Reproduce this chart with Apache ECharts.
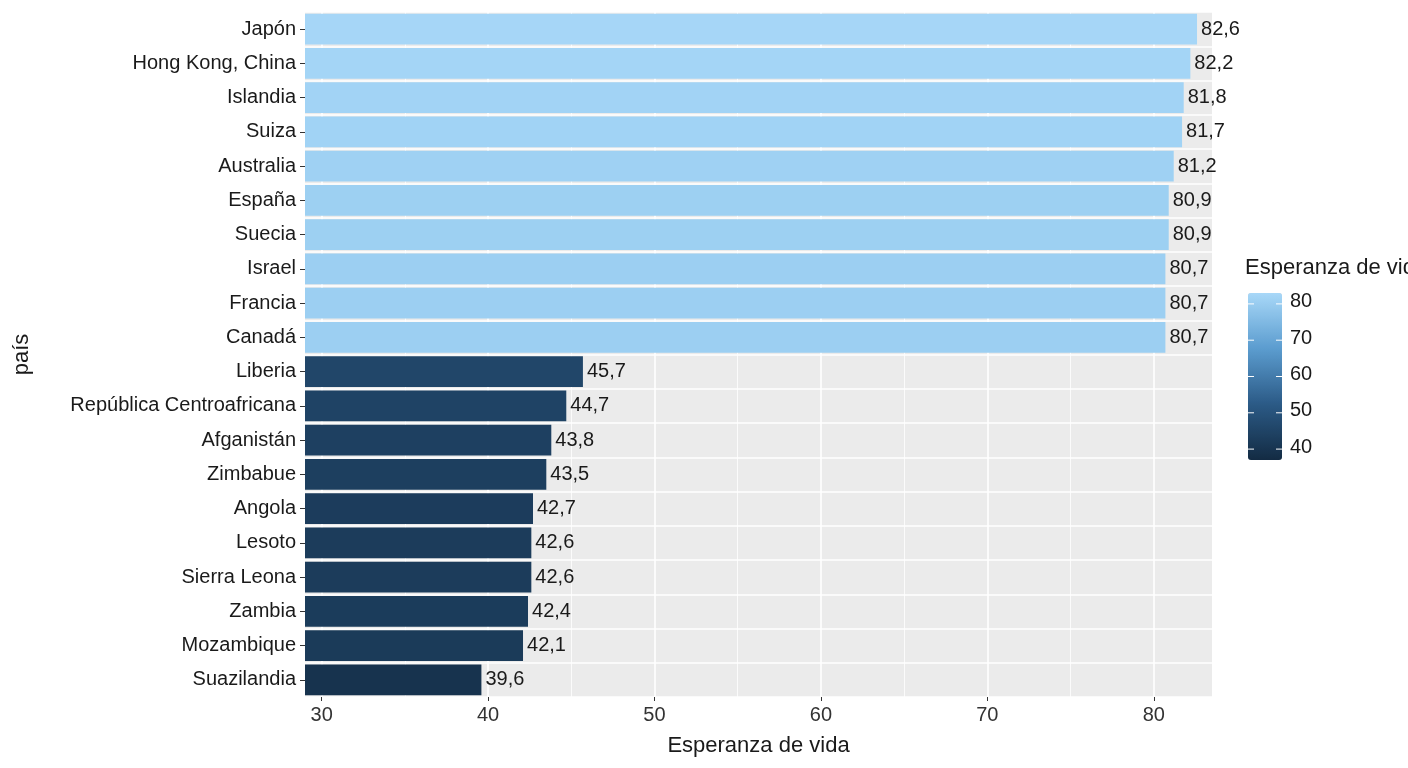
<!DOCTYPE html>
<html>
<head>
<meta charset="UTF-8">
<script src="https://cdn.jsdelivr.net/npm/echarts@6/dist/echarts.min.js"></script>
<style>html,body{margin:0;padding:0;background:#fff}</style>
</head>
<body>
<div id="main" style="width:1408px;height:768px;"></div>
<script>
// países, de arriba abajo
var paises = ['Japón','Hong Kong, China','Islandia','Suiza','Australia','España','Suecia','Israel','Francia','Canadá',
  'Liberia','República Centroafricana','Afganistán','Zimbabue','Angola','Lesoto','Sierra Leona','Zambia','Mozambique','Suazilandia'];
var esperanza = [82.6,82.2,81.8,81.7,81.2,80.9,80.9,80.7,80.7,80.7,45.7,44.7,43.8,43.5,42.7,42.6,42.6,42.4,42.1,39.6];
var ticksX = [30,40,50,60,70,80];
var ticksMenores = [35,45,55,65,75];
var ticksLeyenda = [40,50,60,70,80];

var xMin = 29, xMax = 83.5;
var barTop = 293, barH = 167, legMin = 37, legMax = 83;

var gridLines = [];
ticksX.forEach(function (v) { gridLines.push({xAxis: v, lineStyle: {width: 1.6}}); });
ticksMenores.forEach(function (v) { gridLines.push({xAxis: v, lineStyle: {width: 0.8}}); });

var legendTexts = ticksLeyenda.map(function (v) {
  var y = barTop + (legMax - v) / (legMax - legMin) * barH;
  return {type: 'text', left: 1290, top: y - 12, style: {text: String(v), fontSize: 20, fill: '#1a1a1a', fontFamily: 'Liberation Sans'}};
});
legendTexts.push({type: 'text', left: 1245, top: 257, style: {text: 'Esperanza de vida', fontSize: 22, fill: '#1a1a1a', fontFamily: 'Liberation Sans'}});
ticksLeyenda.forEach(function (v) {
  var y = barTop + (legMax - v) / (legMax - legMin) * barH;
  legendTexts.push({type: 'line', z: 100, shape: {x1: 1248, y1: y, x2: 1254, y2: y}, style: {stroke: '#fff', lineWidth: 1}});
  legendTexts.push({type: 'line', z: 100, shape: {x1: 1276, y1: y, x2: 1282, y2: y}, style: {stroke: '#fff', lineWidth: 1}});
});

var option = {
  textStyle: {fontFamily: 'Liberation Sans'},
  grid: {left: 305, right: 196, top: 12, bottom: 71, show: true, backgroundColor: '#EBEBEB', borderWidth: 0},
  xAxis: {
    type: 'value', min: xMin, max: xMax,
    name: 'Esperanza de vida', nameLocation: 'middle', nameGap: 38,
    nameTextStyle: {fontSize: 22, color: '#1a1a1a'},
    axisLine: {show: false},
    axisTick: {show: true, length: 4, lineStyle: {color: '#333'}, customValues: ticksX},
    axisLabel: {fontSize: 20, color: '#333', customValues: ticksX, margin: 8},
    splitLine: {show: false}
  },
  yAxis: {
    type: 'category', data: paises, inverse: true,
    name: 'país', nameLocation: 'middle', nameGap: 272, nameRotate: 90,
    nameTextStyle: {fontSize: 22, color: '#1a1a1a'},
    axisLine: {show: false},
    axisTick: {show: true, length: 5, alignWithLabel: true, lineStyle: {color: '#333'}},
    axisLabel: {fontSize: 20, color: '#1a1a1a', margin: 9},
    splitLine: {show: true, lineStyle: {color: '#fff', width: 1.6}}
  },
  visualMap: {
    type: 'continuous', min: legMin, max: legMax, dimension: 0, seriesIndex: 1,
    inRange: {color: ['#132B43', '#2b5a86', '#5b9ccf', '#a8d8f8']},
    left: 1248, top: barTop, itemWidth: 34, itemHeight: barH, padding: 0,
    calculable: false, text: ['', ''], showLabel: false, textStyle: {fontSize: 0}
  },
  graphic: legendTexts,
  series: [
    {
      type: 'bar', data: [], z: 1, silent: true,
      markLine: {z: 1, silent: true, symbol: 'none', label: {show: false}, lineStyle: {color: '#fff', type: 'solid'}, data: gridLines}
    },
    {
      type: 'bar', z: 3, barCategoryGap: '10%', barGap: '-100%',
      data: esperanza,
      label: {show: true, position: 'right', distance: 4, fontSize: 20, color: '#1a1a1a',
        formatter: function (p) { return p.value.toFixed(1).replace('.', ','); }}
    }
  ]
};
var chart = echarts.init(document.getElementById('main'));
chart.setOption(option);
</script>
</body>
</html>
